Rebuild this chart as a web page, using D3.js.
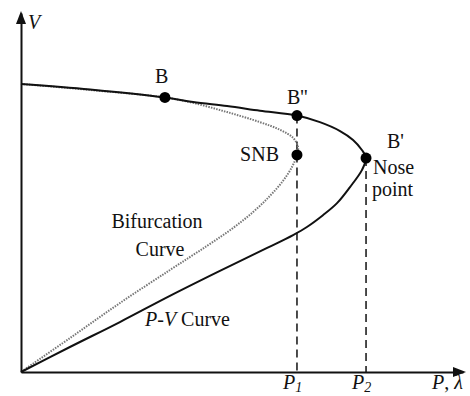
<!DOCTYPE html>
<html>
<head>
<meta charset="utf-8">
<script src="https://cdn.jsdelivr.net/npm/d3@7"></script>
<style>
  body { margin: 0; background: #fff; }
</style>
</head>
<body>
<div id="chart"></div>
<script>
// P-V (nose) curve: [P, V]
var pvCurve = [
  [0, 1.003], [0.250, 0.984], [0.521, 0.956], [0.623, 0.940], [0.746, 0.926],
  [0.865, 0.910], [0.999, 0.893], [1.082, 0.870], [1.155, 0.839], [1.202, 0.808],
  [1.234, 0.773], [1.249, 0.745], [1.234, 0.703], [1.191, 0.644], [1.144, 0.588],
  [1.093, 0.546], [1.035, 0.505], [0.985, 0.477], [0.891, 0.432], [0.720, 0.352],
  [0.539, 0.265], [0.358, 0.174], [0.177, 0.087], [0, 0]
];
// bifurcation curve: [P, V]
var bifCurve = [
  [0, 1.003], [0.250, 0.982], [0.521, 0.956], [0.623, 0.937], [0.746, 0.905],
  [0.865, 0.870], [0.938, 0.843], [0.985, 0.815], [1.003, 0.783], [0.999, 0.756],
  [0.981, 0.714], [0.948, 0.665], [0.901, 0.613], [0.840, 0.557], [0.767, 0.501],
  [0.673, 0.439], [0.539, 0.355], [0.358, 0.240], [0.177, 0.118], [0, 0]
];
var markNames = ["B", "B''", "SNB", "B'"];
var markP = [0.521, 0.999, 0.999, 1.249];
var markV = [0.956, 0.893, 0.756, 0.745];
var tickNames = ["P1", "P2"];
var tickP = [0.999, 1.249];

var W = 470, H = 396;
var svg = d3.select("#chart").append("svg")
  .attr("width", W).attr("height", H);

var x = d3.scaleLinear().domain([0, 1.6]).range([21, 463]);
var y = d3.scaleLinear().domain([0, 1.25]).range([372, 13]);

var line = d3.line()
  .x(function(d) { return x(d[0]); })
  .y(function(d) { return y(d[1]); })
  .curve(d3.curveCatmullRom);

// dashed drops to the P axis
svg.selectAll("line.drop")
  .data([1, 3])
  .enter().append("line")
  .attr("class", "drop")
  .attr("x1", function(i) { return x(markP[i]); })
  .attr("x2", function(i) { return x(markP[i]); })
  .attr("y1", function(i) { return y(markV[i]); })
  .attr("y2", y(0))
  .attr("stroke", "#111").attr("stroke-width", 1.5)
  .attr("stroke-dasharray", "8,5");

// curves
svg.append("path").datum(bifCurve)
  .attr("d", line).attr("fill", "none")
  .attr("stroke", "#777").attr("stroke-width", 2)
  .attr("stroke-dasharray", "1.5,1.2");

svg.append("path").datum(pvCurve)
  .attr("d", line).attr("fill", "none")
  .attr("stroke", "#111").attr("stroke-width", 2);

// axes
var xAxis = d3.axisBottom(x).tickValues([]).tickSizeOuter(0);
var yAxis = d3.axisLeft(y).tickValues([]).tickSizeOuter(0);
svg.append("g").attr("transform", "translate(0," + y(0) + ")").call(xAxis)
  .select(".domain").attr("stroke", "#111").attr("stroke-width", 2);
svg.append("g").attr("transform", "translate(" + x(0) + ",0)").call(yAxis)
  .select(".domain").attr("stroke", "#111").attr("stroke-width", 2);

// arrow heads
svg.append("path")
  .attr("d", "M" + x(0) + "," + (y(1.25) - 2) + "l-5,13l10,0z")
  .attr("fill", "#111");
svg.append("path")
  .attr("d", "M" + (x(1.6) + 3) + "," + y(0) + "l-13,-5l0,10z")
  .attr("fill", "#111");

// points
svg.selectAll("circle.mark")
  .data(markP)
  .enter().append("circle")
  .attr("class", "mark")
  .attr("cx", function(d) { return x(d); })
  .attr("cy", function(d, i) { return y(markV[i]); })
  .attr("r", 5.5)
  .attr("fill", "#000");

// point labels
var lab = svg.append("g")
  .style("font-family", "Liberation Serif")
  .attr("font-size", 20).attr("fill", "#111");
lab.append("text").attr("x", x(markP[0]) - 10).attr("y", y(markV[0]) - 14).text(markNames[0]);
lab.append("text").attr("x", x(markP[1]) - 10).attr("y", y(markV[1]) - 12).text(markNames[1]);
lab.append("text").attr("x", x(markP[2]) - 18).attr("y", y(markV[2]) + 6)
  .attr("text-anchor", "end").text(markNames[2]);
lab.append("text").attr("x", x(markP[3]) + 21).attr("y", y(markV[3]) - 10).text(markNames[3]);
lab.append("text").attr("x", x(markP[3]) + 7).attr("y", y(markV[3]) + 16).text("Nose");
lab.append("text").attr("x", x(markP[3]) + 6).attr("y", y(markV[3]) + 38).text("point");

lab.append("text").attr("x", 157).attr("y", 228).attr("text-anchor", "middle").text("Bifurcation");
lab.append("text").attr("x", 160).attr("y", 256).attr("text-anchor", "middle").text("Curve");

var pv = lab.append("text").attr("x", 145).attr("y", 326);
pv.append("tspan").attr("font-style", "italic").text("P");
pv.append("tspan").text("-");
pv.append("tspan").attr("font-style", "italic").text("V");
pv.append("tspan").text(" Curve");

// axis labels
lab.append("text").attr("x", 28).attr("y", 29).attr("font-style", "italic").text("V");

tickNames.forEach(function(t, i) {
  var tx = lab.append("text")
    .attr("x", x(tickP[i]) - 14).attr("y", 389)
    .attr("font-style", "italic");
  tx.append("tspan").text(t.charAt(0));
  tx.append("tspan").attr("font-size", 14).attr("dy", 3).text(t.charAt(1));
});

var pl = lab.append("text").attr("x", 432).attr("y", 389).attr("font-style", "italic");
pl.append("tspan").text("P");
pl.append("tspan").attr("font-style", "normal").text(", ");
pl.append("tspan").text("λ");
</script>
</body>
</html>
